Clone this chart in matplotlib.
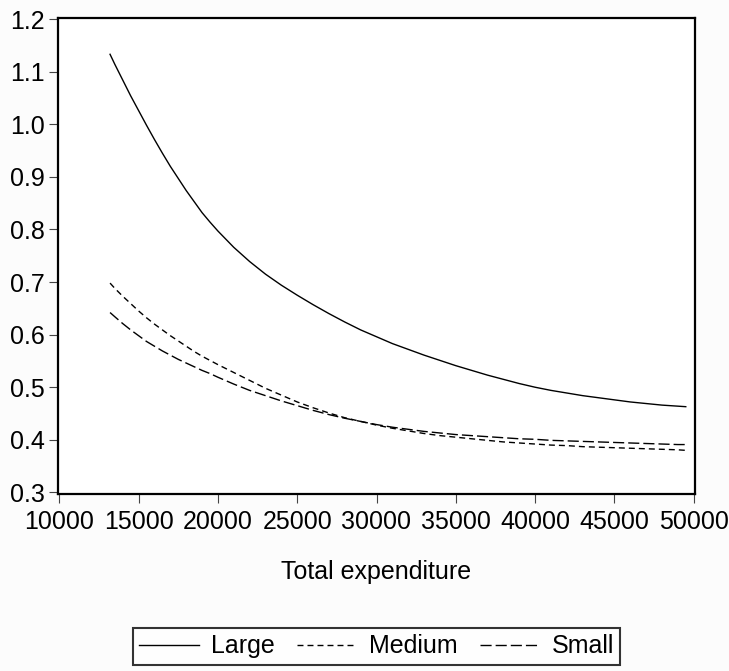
import numpy as np
import matplotlib
matplotlib.use("Agg")
import matplotlib.pyplot as plt
from matplotlib.ticker import FormatStrFormatter

plt.rcParams['font.family'] = ['Liberation Sans', 'DejaVu Sans']

# values
expenditure = [13200, 13500, 14000, 14500, 15000, 15500, 16000, 16500, 17000, 17500,
               18000, 18500, 19000, 19500, 20000, 21000, 22000, 23000, 24000, 25000,
               26000, 27000, 28000, 29000, 30000, 31000, 32000, 33000, 34000, 35000,
               36000, 37000, 38000, 39000, 40000, 41000, 42000, 43000, 44000, 45000,
               46000, 47000, 48000, 49000, 49500]
large = [1.133, 1.114, 1.084, 1.054, 1.026, 0.998, 0.971, 0.945, 0.920, 0.897,
         0.874, 0.853, 0.832, 0.814, 0.797, 0.766, 0.739, 0.715, 0.694, 0.675,
         0.657, 0.640, 0.624, 0.609, 0.596, 0.583, 0.572, 0.561, 0.551, 0.541,
         0.532, 0.523, 0.515, 0.507, 0.500, 0.494, 0.489, 0.484, 0.480, 0.476,
         0.472, 0.469, 0.466, 0.464, 0.463]
medium = [0.698, 0.688, 0.673, 0.659, 0.645, 0.632, 0.620, 0.609, 0.598, 0.588,
          0.578, 0.568, 0.559, 0.551, 0.543, 0.528, 0.513, 0.498, 0.485, 0.472,
          0.461, 0.451, 0.442, 0.435, 0.428, 0.422, 0.417, 0.412, 0.408, 0.405,
          0.402, 0.399, 0.396, 0.394, 0.392, 0.390, 0.389, 0.387, 0.386, 0.385,
          0.384, 0.383, 0.382, 0.381, 0.380]
small = [0.642, 0.634, 0.621, 0.609, 0.598, 0.587, 0.578, 0.569, 0.561, 0.553,
         0.546, 0.539, 0.532, 0.526, 0.519, 0.506, 0.494, 0.484, 0.474, 0.465,
         0.456, 0.448, 0.441, 0.435, 0.429, 0.424, 0.420, 0.416, 0.413, 0.410,
         0.408, 0.406, 0.404, 0.402, 0.401, 0.399, 0.398, 0.397, 0.396, 0.395,
         0.394, 0.393, 0.392, 0.391, 0.391]
x_ticks = [10000, 15000, 20000, 25000, 30000, 35000, 40000, 45000, 50000]
y_ticks = [0.3, 0.4, 0.5, 0.6, 0.7, 0.8, 0.9, 1.0, 1.1, 1.2]

fig = plt.figure(figsize=(7.29, 6.71), dpi=100, facecolor='#fcfcfc')
ax = fig.add_axes([58 / 729, 1 - 494 / 671, 637 / 729, 476 / 671])

ax.plot(expenditure, large, color='black', lw=1.0, label="Large")
ax.plot(expenditure, medium, color='black', lw=1.0, dashes=(4.3, 2.9), label="Medium")
ax.plot(expenditure, small, color='black', lw=1.0, dashes=(8, 2.9), label="Small")

ax.set_xlim(9918, 50082)
ax.set_ylim(0.297, 1.202)
ax.set_xticks(x_ticks)
ax.set_yticks(y_ticks)
ax.yaxis.set_major_formatter(FormatStrFormatter('%.1f'))
ax.tick_params(direction='out', length=6.5, width=0.8, color='#444444',
               labelsize=18, pad=3)
ax.tick_params(axis='x', pad=5)
for s in ax.spines.values():
    s.set_linewidth(1.6)
    s.set_color('black')

ax.set_xlabel("Total expenditure", fontsize=18, labelpad=19)

leg = fig.legend(loc='upper center', bbox_to_anchor=(376.5 / 729, 1 - 628 / 671),
                 ncol=3, fontsize=18, frameon=True, fancybox=False,
                 handlelength=2.4, handletextpad=0.47, columnspacing=0.9,
                 borderpad=0.25, borderaxespad=0)
leg.get_frame().set_edgecolor('black')
leg.get_frame().set_linewidth(1.5)
leg.get_frame().set_facecolor('white')

fig.savefig("out.png", dpi=100, facecolor=fig.get_facecolor())
